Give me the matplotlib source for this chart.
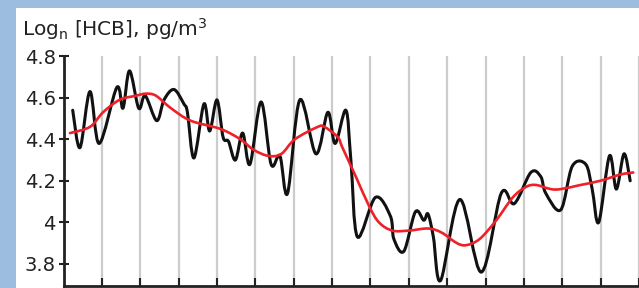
import matplotlib
matplotlib.use("Agg")
import matplotlib.pyplot as plt
from matplotlib.patches import Rectangle, PathPatch
from matplotlib.path import Path

# --- values (x in grid units, y = log concentration) ---
raw_x = [0.24, 0.43, 0.69, 0.93, 1.39, 1.55, 1.72, 1.96, 2.13, 2.43, 2.62, 2.88,
         3.14, 3.23, 3.40, 3.66, 3.81, 4.00, 4.16, 4.30, 4.48, 4.67, 4.86, 5.15,
         5.41, 5.64, 5.84, 6.16, 6.58, 6.89, 7.08, 7.36, 7.49, 7.66, 8.13, 8.52,
         8.61, 8.87, 9.17, 9.39, 9.50, 9.64, 9.83, 10.33, 10.89, 11.41, 11.75, 12.18,
         12.44, 12.57, 12.96, 13.26, 13.61, 13.78, 13.95, 14.23, 14.41, 14.61, 14.77]
raw_y = [4.54, 4.36, 4.63, 4.38, 4.65, 4.55, 4.73, 4.55, 4.61, 4.49, 4.59, 4.64,
         4.57, 4.53, 4.31, 4.57, 4.44, 4.59, 4.41, 4.39, 4.30, 4.43, 4.28, 4.58,
         4.28, 4.32, 4.14, 4.59, 4.33, 4.53, 4.38, 4.54, 4.30, 3.93, 4.12, 4.03,
         3.92, 3.86, 4.05, 4.01, 4.04, 3.93, 3.72, 4.11, 3.76, 4.14, 4.09, 4.24,
         4.22, 4.14, 4.06, 4.27, 4.28, 4.16, 4.00, 4.32, 4.16, 4.33, 4.20]

trend_x = [0.17, 0.69, 1.03, 1.46, 1.89, 2.15, 2.41, 2.80, 3.31, 4.09, 4.61, 4.95,
           5.34, 5.68, 6.03, 6.63, 6.80, 7.15, 7.27, 7.62, 7.96, 8.22, 8.57, 9.00,
           9.51, 9.86, 10.25, 10.50, 10.85, 11.28, 11.71, 12.05, 12.31, 12.70, 12.96,
           13.48, 13.99, 14.51, 14.85]
trend_y = [4.43, 4.46, 4.53, 4.59, 4.61, 4.62, 4.61, 4.55, 4.49, 4.45, 4.40, 4.35,
           4.32, 4.33, 4.40, 4.46, 4.46, 4.41, 4.36, 4.22, 4.08, 4.00, 3.96, 3.96,
           3.97, 3.95, 3.90, 3.89, 3.92, 4.01, 4.12, 4.17, 4.18, 4.16, 4.16,
           4.18, 4.20, 4.23, 4.24]

y_ticks = [3.8, 4.0, 4.2, 4.4, 4.6, 4.8]
y_tick_labels = ["3.8", "4", "4.2", "4.4", "4.6", "4.8"]
x_grid = list(range(1, 16))
title = r"Log$_\mathregular{n}$ [HCB], pg/m$^\mathregular{3}$"

W, H = 639, 288


def smoothed(xs, ys):
    """Bezier path through the points, like a 'smoothed line' in a spreadsheet."""
    pts = list(zip(xs, ys))
    n = len(pts)
    verts, codes = [pts[0]], [Path.MOVETO]
    for i in range(n - 1):
        p0 = pts[i - 1] if i > 0 else pts[i]
        p1, p2 = pts[i], pts[i + 1]
        p3 = pts[i + 2] if i + 2 < n else pts[i + 1]
        c1 = (p1[0] + (p2[0] - p0[0]) / 6, p1[1] + (p2[1] - p0[1]) / 6)
        c2 = (p2[0] - (p3[0] - p1[0]) / 6, p2[1] - (p3[1] - p1[1]) / 6)
        verts += [c1, c2, p2]
        codes += [Path.CURVE4] * 3
    return Path(verts, codes)


plt.rcParams["font.family"] = ["DejaVu Sans"]

fig = plt.figure(figsize=(W / 100, H / 100), dpi=100)
fig.patch.set_facecolor("#9dbde0")
fig.add_artist(Rectangle((16 / W, 0), 1, (H - 8) / H, transform=fig.transFigure,
                         facecolor="white", edgecolor="none", zorder=0))

ax = fig.add_axes([63.5 / W, 2 / H, (W - 63.5) / W, (286 - 56.3) / H])
ax.set_facecolor("none")
ax.set_xlim(0, (W - 63.5) / 38.7)
ax.set_ylim(3.693, 4.8)

for xg in x_grid:
    ax.axvline(xg, color="#cccccc", lw=1.6, zorder=1)

ax.add_patch(PathPatch(smoothed(raw_x, raw_y), facecolor="none", edgecolor="#111111",
                       lw=2.2, joinstyle="round", capstyle="round", zorder=3))
ax.add_patch(PathPatch(smoothed(trend_x, trend_y), facecolor="none", edgecolor="#ee2028",
                       lw=1.9, joinstyle="round", capstyle="round", zorder=4))

ax.set_yticks(y_ticks)
ax.set_yticklabels(y_tick_labels)
ax.set_xticks(x_grid)
ax.set_xticklabels([])
ax.tick_params(axis="y", direction="inout", length=7, width=1.5, colors="#222222",
               labelsize=14, pad=2)
ax.tick_params(axis="x", direction="in", length=6, width=1.5, colors="#222222")

for side in ("top", "right"):
    ax.spines[side].set_visible(False)
for side in ("left", "bottom"):
    ax.spines[side].set_color("#222222")
    ax.spines[side].set_linewidth(2)

fig.text(22 / W, 1 - 36 / H, title, fontsize=14.5, color="#222222",
         ha="left", va="baseline")

fig.savefig("out.png", dpi=100)
